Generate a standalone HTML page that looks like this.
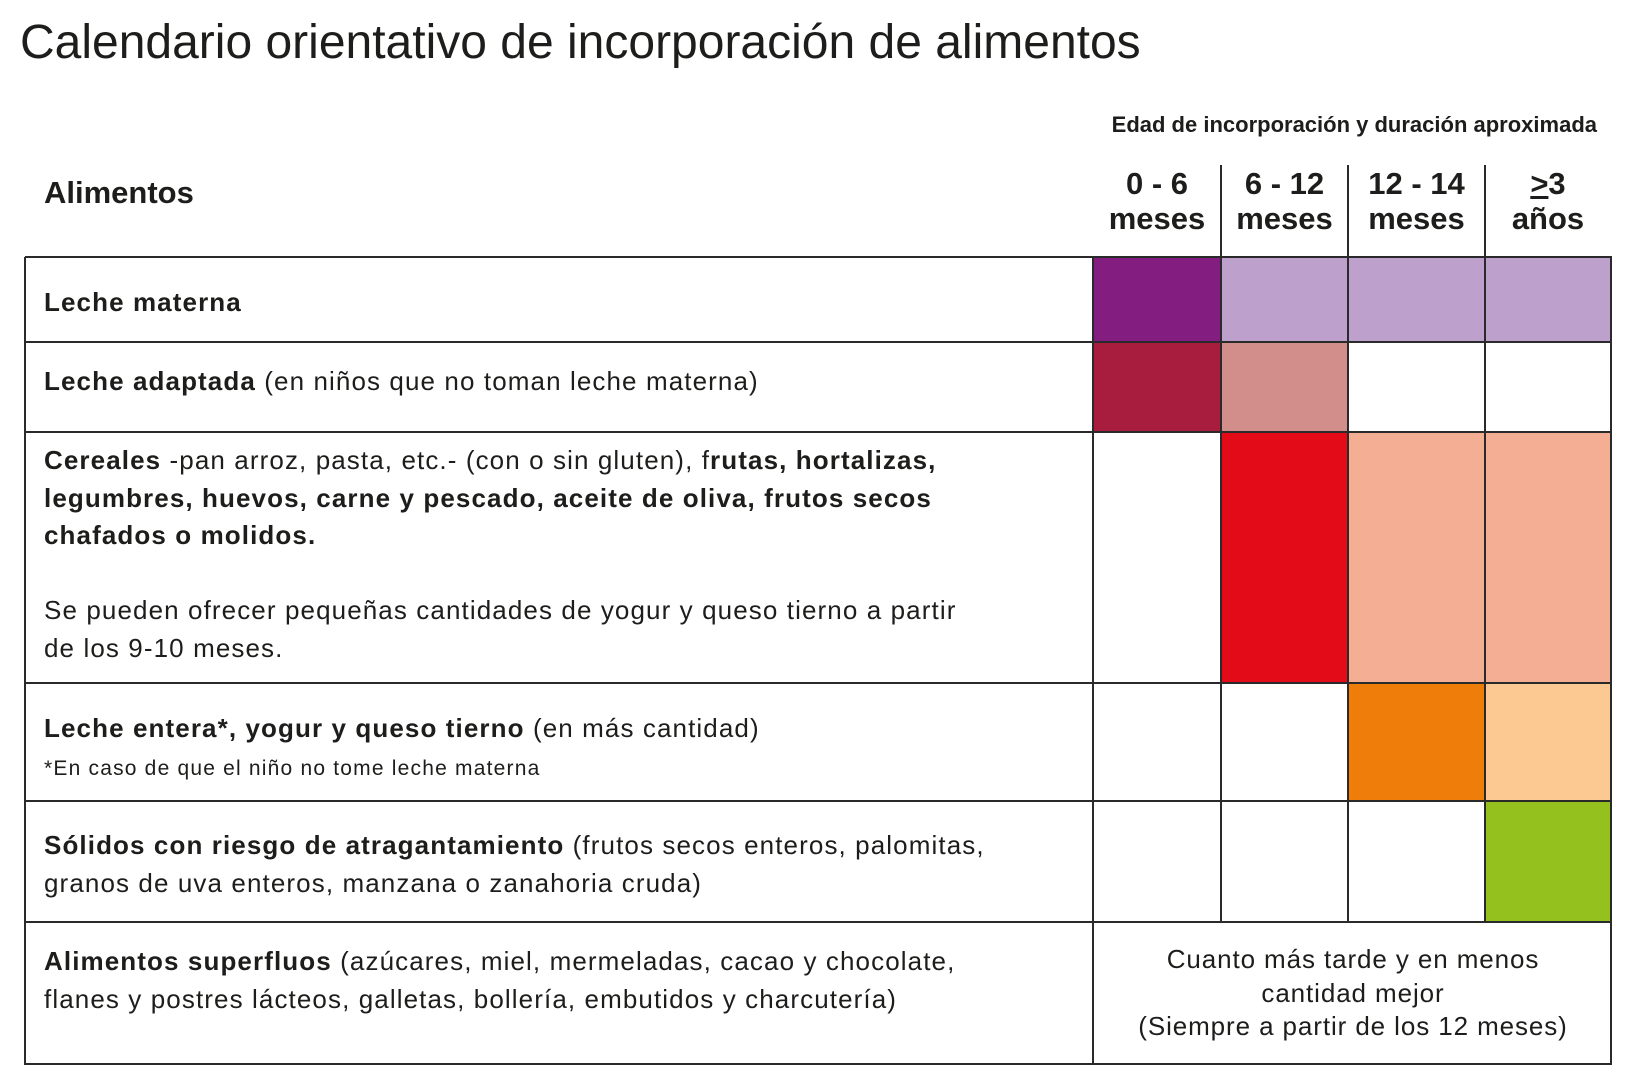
<!DOCTYPE html>
<html><head><meta charset="utf-8">
<style>
html,body{margin:0;padding:0;background:#fff;}
body{width:1630px;height:1087px;position:relative;overflow:hidden;font-family:"Liberation Sans",sans-serif;color:#1d1d1b;}
.a{position:absolute;white-space:nowrap;}
.t{font-size:26px;line-height:37.5px;letter-spacing:1.1px;}
b{font-weight:bold;}
.hl{position:absolute;background:#2a2a2a;height:2px;}
.vl{position:absolute;background:#2a2a2a;width:2px;}
.hd{position:absolute;text-align:center;font-weight:bold;font-size:31px;line-height:35px;}
</style></head>
<body>
<div class="a" style="left:20px;top:14px;font-size:48px;line-height:58px;color:#1d1d1b;">Calendario orientativo de incorporación de alimentos</div>
<div class="a" style="right:33px;top:112px;font-size:22px;font-weight:bold;">Edad de incorporación y duración aproximada</div>
<div class="a" style="left:44px;top:175px;font-size:31px;font-weight:bold;">Alimentos</div>

<div id="cells"></div>
<div id="grid"></div>

<div class="a t" style="left:44px;top:284px;"><b>Leche materna</b></div>
<div class="a t" style="left:44px;top:363px;"><b>Leche adaptada</b> (en niños que no toman leche materna)</div>
<div class="a t" style="left:44px;top:442px;"><b>Cereales</b> -pan arroz, pasta, etc.- (con o sin gluten), f<b>rutas, hortalizas,</b><br><b>legumbres, huevos, carne y pescado, aceite de oliva, frutos secos</b><br><b>chafados o molidos.</b></div>
<div class="a t" style="left:44px;top:592px;">Se pueden ofrecer pequeñas cantidades de yogur y queso tierno a partir<br>de los 9-10 meses.</div>
<div class="a t" style="left:44px;top:710px;"><b>Leche entera*, yogur y queso tierno</b> (en más cantidad)</div>
<div class="a" style="left:44px;top:756px;font-size:21px;line-height:26px;letter-spacing:1.2px;">*En caso de que el niño no tome leche materna</div>
<div class="a t" style="left:44px;top:827px;"><b>Sólidos con riesgo de atragantamiento</b> (frutos secos enteros, palomitas,<br>granos de uva enteros, manzana o zanahoria cruda)</div>
<div class="a t" style="left:44px;top:943px;"><b>Alimentos superfluos</b> (azúcares, miel, mermeladas, cacao y chocolate,<br>flanes y postres lácteos, galletas, bollería, embutidos y charcutería)</div>
<div class="a" style="left:1094px;width:518px;top:943px;text-align:center;font-size:26px;line-height:33.5px;letter-spacing:0.9px;white-space:normal;">Cuanto más tarde y en menos<br>cantidad mejor<br>(Siempre a partir de los 12 meses)</div>

<script>
const ageLabels = ["0 - 6|meses","6 - 12|meses","12 - 14|meses","≥3|años"];
const rowNames = ["leche-materna","leche-adaptada","cereales","leche-entera","solidos","superfluos"];
const cellColors = [
  ["#841d80","#bda1cc","#bda1cc","#bda1cc"],
  ["#a81c3e","#d18e8b",null,null],
  [null,"#e30b17","#f4ae94","#f4ae94"],
  [null,null,"#ef7d0a","#fbc991"],
  [null,null,null,"#95c11f"],
  [null,null,null,null]
];
const colX=[1093,1221,1348,1485,1611];
const rowY=[257,342,432,683,801,922,1064];
const tableLeft=25;
const cells=document.getElementById('cells');
const grid=document.getElementById('grid');
cellColors.forEach((row,r)=>row.forEach((c,i)=>{
  if(!c) return;
  const d=document.createElement('div');
  
  
  d.style.cssText=`position:absolute;left:${colX[i]}px;top:${rowY[r]}px;width:${colX[i+1]-colX[i]}px;height:${rowY[r+1]-rowY[r]}px;background:${c}`;
  cells.appendChild(d);
}));
ageLabels.forEach((l,i)=>{
  const d=document.createElement('div');
  
  
  d.className='hd';
  d.style.left=colX[i]+'px';d.style.width=(colX[i+1]-colX[i])+'px';d.style.top='166px';
  const p=l.split('|');
  d.innerHTML=(p[0].startsWith('≥')?'<u>&gt;</u>3':p[0])+'<br>'+p[1];
  grid.appendChild(d);
});
rowY.forEach((y,k)=>{
  const d=document.createElement('div');
  
  
  d.className='hl';
  d.style.left=tableLeft+'px';d.style.width=(colX[4]-tableLeft+1)+'px';d.style.top=(y-1)+'px';
  grid.appendChild(d);
});
colX.forEach((x,i)=>{
  const top = (i>0&&i<4)?165:257;
  const bottom = (i>0&&i<4)?rowY[5]:rowY[6];
  const d=document.createElement('div');
  
  
  d.className='vl';
  d.style.left=(x-1)+'px';d.style.top=top+'px';d.style.height=(bottom-top+1)+'px';
  grid.appendChild(d);
});
const l=document.createElement('div');


l.className='vl';
l.style.left=(tableLeft-1)+'px';l.style.top='257px';l.style.height=(rowY[6]-257+1)+'px';
grid.appendChild(l);
</script>
</body></html>
